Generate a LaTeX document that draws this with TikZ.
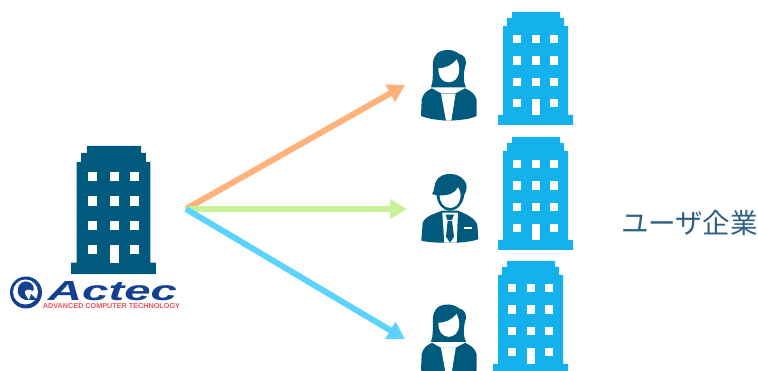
\documentclass[tikz,border=0pt]{standalone}
\usepackage{fontspec}
\usepackage{graphicx}
\setmainfont{Liberation Sans}
\newfontfamily\jpfont{Noto Sans CJK JP}
\usetikzlibrary{arrows.meta}
\definecolor{darkb}{HTML}{005A7D}
\definecolor{lightb}{HTML}{14B1ED}
\definecolor{arrO}{HTML}{FFB27A}
\definecolor{arrG}{HTML}{C8F296}
\definecolor{arrB}{HTML}{5CD2FF}
\definecolor{labelc}{HTML}{2E5F85}
\definecolor{logob}{HTML}{14418F}
\definecolor{logor}{HTML}{F0505A}
\tikzset{
  flow/.style={line width=6pt,-{Triangle[length=17pt,width=19pt]}},
  win/.style={fill=white,draw=none},
  shapefill/.style={fill=darkb,draw=none},
  cut/.style={fill=white,draw=none},
  zoomed/.style={x=0.3333pt,y=-0.3333pt}
}
\newcommand{\bldg}[4]{%
\begin{scope}[shift={(#1,#2)},x=#3pt,y=-#3pt]
 \fill[#4] (14,0) -- (62,0) -- (62,6) -- (66,6) -- (66,14) -- (70,14) -- (70,103) -- (75,103) -- (75,113) -- (0,113) -- (0,103) -- (5,103) -- (5,14) -- (9,14) -- (9,6) -- (14,6) -- cycle;
 \foreach \wx in {15,34,52}{\foreach \wy in {23,44.5,66}{\fill[win] (\wx,\wy) rectangle ++(8.3,8.3);}}
 \fill[win] (15,87) rectangle ++(8.3,8.3);
 \fill[win] (52,87) rectangle ++(8.3,8.3);
 \fill[win] (34,87) rectangle (42.3,103);
\end{scope}}
\newcommand{\woman}[2]{%
\begin{scope}[shift={(#1,#2)},zoomed]
 \fill[shapefill] (115,150) .. controls (85,150) and (70,165) .. (69,190) .. controls (68,220) and (70,245) .. (63,262) -- (168,262) .. controls (158,240) and (160,220) .. (168,190) .. controls (168,175) and (162,165) .. (148,162) .. controls (138,155) and (128,150) .. (115,150) -- cycle;
 \fill[cut] (85,205) .. controls (105,205) and (128,195) .. (140,178) .. controls (146,190) and (148,200) .. (147,213) .. controls (146,235) and (132,247) .. (116,247) .. controls (98,247) and (85,232) .. (85,205) -- cycle;
 \fill[shapefill] (66,265) .. controls (50,272) and (38,282) .. (35,300) -- (33,348) .. controls (60,358) and (85,360) .. (108,362) -- (122,362) .. controls (150,360) and (180,358) .. (200,348) -- (200,300) .. controls (196,282) and (182,272) .. (165,265) .. controls (155,270) and (145,276) .. (137,280) -- (93,280) .. controls (85,276) and (75,270) .. (66,265) -- cycle;
 \fill[cut] (93,281) -- (137,281) -- (124,362) -- (108,362) -- cycle;
\end{scope}}
\newcommand{\man}[2]{%
\begin{scope}[shift={(#1,#2)},zoomed]
 \fill[shapefill] (42,72) .. controls (50,62) and (48,50) .. (52,38) .. controls (60,18) and (80,10) .. (100,12) .. controls (125,14) and (146,30) .. (146,52) .. controls (146,62) and (142,68) .. (139,74) .. controls (136,100) and (118,122) .. (96,122) .. controls (74,122) and (58,102) .. (56,76) -- cycle;
 \fill[cut] (65,76) .. controls (90,78) and (112,70) .. (120,52) .. controls (127,62) and (129,72) .. (127,84) .. controls (124,104) and (110,114) .. (96,114) .. controls (78,114) and (65,98) .. (65,76) -- cycle;
 \fill[shapefill] (72,122) .. controls (50,132) and (24,136) .. (14,158) -- (10,212) .. controls (36,218) and (60,218) .. (80,218) -- (115,218) .. controls (140,217) and (162,214) .. (181,208) -- (178,165) .. controls (172,145) and (145,132) .. (120,122) -- cycle;
 \fill[cut] (73,128) -- (120,128) -- (116,218) -- (79,218) -- cycle;
 \fill[shapefill] (83,134) -- (108,134) -- (102,150) -- (88,150) -- cycle;
 \fill[shapefill] (89,153) -- (102,153) -- (108,200) -- (96,218) -- (84,200) -- cycle;
 \fill[cut] (138,171) -- (162,171) -- (162,177) -- (138,177) -- cycle;
\end{scope}}
\begin{document}
\begin{tikzpicture}[x=1pt,y=-1pt]
\useasboundingbox (0,0) rectangle (758,371);
\clip (0,0) rectangle (758,371);
\bldg{71}{146}{1.133}{darkb}
\bldg{498}{12}{1}{lightb}
\bldg{498}{137}{1}{lightb}
\bldg{493}{261}{1}{lightb}
\woman{410}{0}
\man{418}{170}
\woman{410}{254.5}
\coordinate (hub) at (186,209);
\coordinate (tipO) at (405,85);
\coordinate (tipG) at (407,209);
\coordinate (tipB) at (405,339);
\draw[flow,arrO] (hub) -- (tipO);
\draw[flow,arrG,line width=5.5pt] (hub) -- (tipG);
\draw[flow,arrB] (hub) -- (tipB);
\node[text=labelc,inner sep=0pt,anchor=center] (users) at (689.5,223.5) {\fontsize{27.5}{27.5}\selectfont\jpfont ユーザ企業};
% logo
\fill[logob] (26,292.5) circle (16);
\fill[white] (25.5,292) circle (12.5);
\fill[logob] (18,290) .. controls (18,283) and (24,280) .. (29,282) .. controls (33,284) and (35,288) .. (33,291) .. controls (29,289) and (26,289) .. (25,291) .. controls (24,294) and (27,297) .. (29,300) .. controls (24,301) and (17,297) .. (18,290) -- cycle;
\fill[logob] (31,294) -- (37,300) -- (29,300) -- cycle;
\node[inner sep=0pt,text=logob] (actec) at (112.5,291) {\resizebox{129pt}{19pt}{\bfseries\itshape Actec}};
\node[inner sep=0pt,text=logor] (tagline) at (111.5,306) {\resizebox{137pt}{5pt}{\bfseries ADVANCED COMPUTER TECHNOLOGY}};
\end{tikzpicture}
\end{document}
